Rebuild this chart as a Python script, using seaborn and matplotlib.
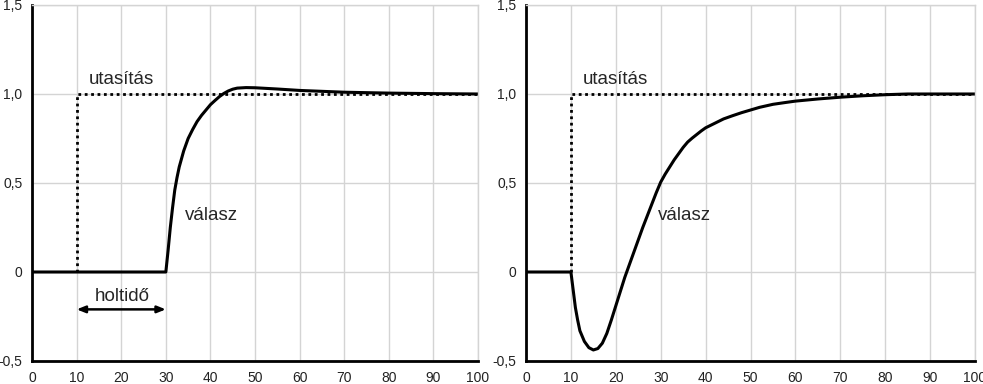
import matplotlib
matplotlib.use("Agg")
import matplotlib.pyplot as plt
import numpy as np
import pandas as pd
import seaborn as sns

# step command (dotted) - same for both panels
cmd_t = [10, 10, 100]
cmd_y = [0, 1, 1]

# left panel: dead time response
left_t = [0, 30, 30.5, 31, 31.5, 32, 32.5, 33, 34, 35, 36, 37, 38, 39, 40,
          41, 42, 43, 44, 45, 46, 48, 50, 55, 60, 70, 80, 90, 100]
left_y = [0, 0, 0.12, 0.25, 0.36, 0.46, 0.53, 0.59, 0.68, 0.75, 0.80, 0.845,
          0.88, 0.91, 0.94, 0.963, 0.985, 1.003, 1.017, 1.027, 1.033, 1.036,
          1.035, 1.028, 1.02, 1.01, 1.005, 1.002, 1.0]

# right panel: non-minimum phase response
right_t = [0, 10, 10.5, 11, 11.5, 12, 13, 14, 15, 16, 17, 18, 19, 20, 21, 22,
           23, 24, 25, 26, 27, 28, 29, 30, 31, 32, 33, 34, 35, 36, 37, 38, 39,
           40, 42, 44, 46, 48, 50, 52, 55, 58, 60, 65, 70, 75, 80, 85, 100]
right_y = [0, 0, -0.10, -0.20, -0.27, -0.33, -0.39, -0.425, -0.438, -0.43,
           -0.40, -0.345, -0.27, -0.19, -0.11, -0.03, 0.04, 0.11, 0.18, 0.25,
           0.315, 0.38, 0.445, 0.505, 0.55, 0.59, 0.63, 0.665, 0.70, 0.73,
           0.752, 0.772, 0.792, 0.81, 0.835, 0.86, 0.878, 0.895, 0.91, 0.925,
           0.942, 0.953, 0.96, 0.972, 0.982, 0.99, 0.996, 1.0, 1.0]

x_ticks = [0, 10, 20, 30, 40, 50, 60, 70, 80, 90, 100]
y_ticks = [-0.5, 0, 0.5, 1.0, 1.5]
y_tick_labels = ["-0,5", "0", "0,5", "1,0", "1,5"]

sns.set_style("whitegrid")
plt.rcParams["font.family"] = ["Liberation Sans", "DejaVu Sans"]

fig = plt.figure(figsize=(9.83, 3.84), dpi=100)
ax1 = fig.add_axes([0.0326, 0.0599, 0.4537, 0.9271])
ax2 = fig.add_axes([0.5351, 0.0599, 0.4568, 0.9271])

panels = [(ax1, left_t, left_y, 34.3), (ax2, right_t, right_y, 29.4)]
for ax, t, y, lab_x in panels:
    df = pd.DataFrame({"t": t, "y": y})
    cmd = pd.DataFrame({"t": cmd_t, "y": cmd_y})
    sns.lineplot(data=cmd, x="t", y="y", ax=ax, color="black", lw=2,
                 linestyle=(0, (1, 1.3)), sort=False, estimator=None)
    sns.lineplot(data=df, x="t", y="y", ax=ax, color="black", lw=2.2,
                 sort=False, estimator=None)
    ax.set_xlim(0, 100)
    ax.set_ylim(-0.5, 1.5)
    ax.set_xticks(x_ticks)
    ax.set_yticks(y_ticks)
    ax.set_yticklabels(y_tick_labels)
    ax.set_xlabel("")
    ax.set_ylabel("")
    ax.grid(True, color="#d4d4d4", lw=1)
    ax.tick_params(length=0, labelsize=10, colors="#222222", pad=7)
    for s in ["top", "right"]:
        ax.spines[s].set_color("#d4d4d4")
        ax.spines[s].set_linewidth(1)
    for s in ["left", "bottom"]:
        ax.spines[s].set_color("black")
        ax.spines[s].set_linewidth(2)
    ax.text(20, 1.08, "utasítás", fontsize=13.5, ha="center", va="center")
    ax.text(lab_x, 0.32, "válasz", fontsize=13.5, ha="left", va="center")

ax1.text(20.2, -0.14, "holtidő", fontsize=13.5, ha="center", va="center")
ax1.annotate("", xy=(30, -0.21), xytext=(10, -0.21),
             arrowprops=dict(arrowstyle="<|-|>,head_length=0.5,head_width=0.2",
                             color="black", lw=1.8, shrinkA=0, shrinkB=0))

fig.savefig("out.png", dpi=100)
